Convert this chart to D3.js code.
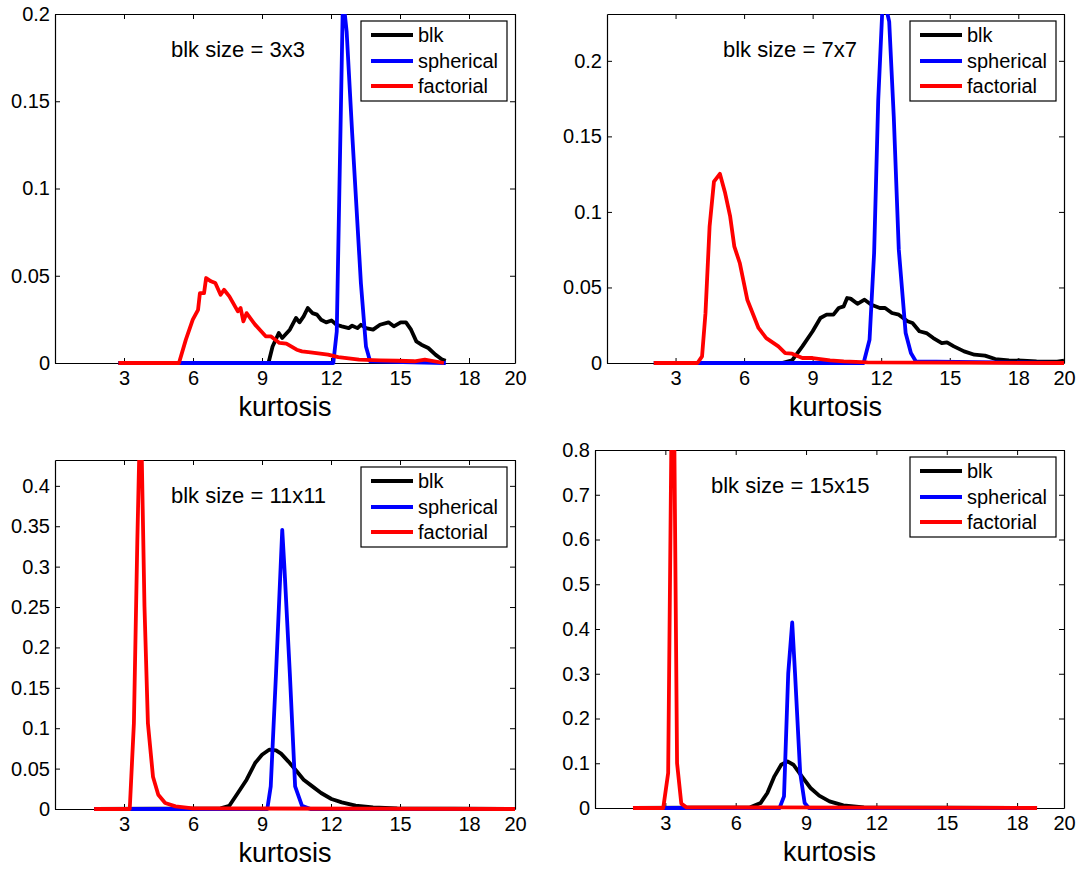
<!DOCTYPE html>
<html>
<head>
<meta charset="utf-8">
<script src="https://cdn.jsdelivr.net/npm/d3@7"></script>
<style>
  body { margin: 0; background: #fff; }
  text { font-family: "Liberation Sans", Arial, Helvetica, sans-serif; fill: #000; }
</style>
</head>
<body>
<script>
// ---- data ----
var seriesNames = ["blk", "spherical", "factorial"];
var seriesColors = ["#000000", "#0000ff", "#ff0000"];
var xTicks = [3, 6, 9, 12, 15, 18, 20];

var titles = ["blk size = 3x3", "blk size = 7x7", "blk size = 11x11", "blk size = 15x15"];
var yMax = [0.2, 0.231, 0.432, 0.8];
var yTicks1 = [0, 0.05, 0.1, 0.15, 0.2];
var yTicks2 = [0, 0.05, 0.1, 0.15, 0.2];
var yTicks3 = [0, 0.05, 0.1, 0.15, 0.2, 0.25, 0.3, 0.35, 0.4];
var yTicks4 = [0, 0.1, 0.2, 0.3, 0.4, 0.5, 0.6, 0.7, 0.8];

// 3x3
var blk3 = [[2.76,0],[9.28,0],[9.46,0.0095],[9.73,0.0172],[9.88,0.0143],[10.21,0.0191],[10.48,0.0258],[10.63,0.0233],
  [10.81,0.0267],[10.99,0.0315],[11.19,0.0286],[11.39,0.0277],[11.57,0.0248],[11.79,0.0233],[12.02,0.0244],[12.24,0.0219],
  [12.47,0.021],[12.77,0.020],[12.92,0.0214],[13.15,0.020],[13.30,0.0219],[13.52,0.020],[13.83,0.0191],[14.13,0.0219],
  [14.50,0.0233],[14.73,0.021],[15.03,0.0233],[15.26,0.0233],[15.48,0.0191],[15.71,0.0124],[15.93,0.0105],[16.23,0.0086],
  [16.54,0.0048],[16.84,0.0019],[16.99,0.0013]];
var sph3 = [[2.76,0],[12.1,0],[12.25,0.018],[12.52,0.21],[12.68,0.19],[12.92,0.1317],[13.3,0.0458],[13.52,0.0095],[13.7,0.001],[16.99,0]];
var fac3 = [[2.76,0],[5.39,0],[5.69,0.0134],[5.99,0.0248],[6.22,0.0305],[6.30,0.040],[6.48,0.040],[6.57,0.0487],[6.78,0.0468],
  [6.97,0.0458],[7.20,0.0391],[7.35,0.042],[7.58,0.0382],[7.95,0.0296],[8.07,0.0315],[8.19,0.0239],[8.33,0.0286],[8.70,0.022],
  [9.16,0.0153],[9.38,0.0153],[9.76,0.0115],[10.06,0.0111],[10.51,0.0076],[10.74,0.0067],[11.11,0.0061],[11.87,0.0048],
  [12.32,0.0034],[13.22,0.0019],[14.13,0.0015],[14.88,0.0013],[15.63,0.001],[16.08,0.0019],[16.91,0]];

// 7x7
var blk7 = [[2.05,0],[7.65,0],[8.1,0.0018],[8.55,0.011],[9.0,0.021],[9.34,0.0298],[9.61,0.032],[9.91,0.032],[10.14,0.0364],
  [10.36,0.0375],[10.51,0.043],[10.66,0.0426],[10.96,0.0392],[11.27,0.0419],[11.57,0.0386],[11.94,0.0364],[12.17,0.0364],
  [12.47,0.0331],[12.77,0.032],[13.15,0.0276],[13.37,0.0265],[13.67,0.021],[13.98,0.0198],[14.28,0.0165],[14.65,0.0132],
  [14.88,0.0137],[15.18,0.011],[15.63,0.0077],[16.08,0.0055],[16.54,0.0049],[16.99,0.0026],[17.59,0.0018],[18.19,0.0015],
  [18.8,0.0011],[19.7,0.0009],[20,0.0015]];
var sph7 = [[2.05,0],[11.23,0],[11.49,0.0154],[11.69,0.0728],[11.87,0.174],[12.05,0.234],[12.17,0.238],[12.35,0.226],
  [12.55,0.163],[12.77,0.075],[13.07,0.0198],[13.3,0.0066],[13.52,0.001],[20,0]];
var fac7 = [[2.05,0],[3.96,0],[4.16,0.0044],[4.31,0.033],[4.49,0.0904],[4.68,0.120],[4.94,0.1252],[5.17,0.1125],[5.39,0.097],
  [5.57,0.0772],[5.81,0.0662],[6.14,0.0419],[6.37,0.0331],[6.63,0.0232],[6.97,0.0165],[7.50,0.011],[7.80,0.0066],[8.10,0.0062],
  [8.55,0.0033],[9.0,0.0033],[9.76,0.0018],[10.36,0.0011],[11.4,0.0004],[20,0]];

// 11x11
var blk11 = [[1.7,0],[7.2,0.0008],[7.58,0.004],[7.95,0.0198],[8.33,0.0363],[8.70,0.0569],[9.0,0.0672],[9.31,0.0734],[9.61,0.0726],
  [9.83,0.0685],[10.14,0.059],[10.51,0.0466],[10.81,0.0363],[11.19,0.028],[11.57,0.0198],[12.02,0.0124],[12.47,0.0082],
  [13.07,0.0041],[13.83,0.0021],[14.88,0.0008],[20,0]];
var sph11 = [[1.7,0],[9.23,0],[9.38,0.028],[9.61,0.168],[9.88,0.3455],[9.98,0.296],[10.21,0.168],[10.44,0.028],[10.74,0.004],
  [11.11,0],[20,0]];
var fac11 = [[1.7,0],[3.25,0],[3.43,0.106],[3.58,0.333],[3.68,0.46],[3.77,0.44],[3.89,0.251],[4.04,0.106],[4.26,0.040],
  [4.49,0.0177],[4.79,0.0074],[5.24,0.0033],[5.99,0.0008],[20,0]];

// 15x15
var blk15 = [[1.62,0],[6.62,0.0015],[7.06,0.011],[7.35,0.0335],[7.65,0.0707],[7.94,0.0967],[8.21,0.104],[8.46,0.0967],
  [8.82,0.0707],[9.19,0.0447],[9.56,0.0275],[10.0,0.0149],[10.59,0.006],[11.47,0.0015],[18.85,0]];
var sph15 = [[1.62,0],[7.87,0],[8.06,0.026],[8.24,0.301],[8.41,0.4145],[8.53,0.301],[8.75,0.078],[8.94,0.011],[9.12,0],[18.85,0]];
var fac15 = [[1.62,0],[2.91,0],[3.12,0.078],[3.26,0.84],[3.38,0.84],[3.5,0.1],[3.68,0.0097],[3.9,0.0015],[18.85,0]];

// ---- layout ----
var W = 1080, H = 869;
var boxes = [
  {left: 55, right: 515, top: 14, bottom: 363},
  {left: 607, right: 1064, top: 14, bottom: 363},
  {left: 55, right: 515, top: 460, bottom: 809},
  {left: 595, right: 1064, top: 450, bottom: 808}
];
var panelSeries = [[blk3, sph3, fac3], [blk7, sph7, fac7], [blk11, sph11, fac11], [blk15, sph15, fac15]];
var panelYTicks = [yTicks1, yTicks2, yTicks3, yTicks4];

var svg = d3.select("body").append("svg")
  .attr("width", W)
  .attr("height", H);

var fmt = function(d) { return String(+d.toFixed(2)); };

function drawPanel(i) {
  var b = boxes[i];
  var g = svg.append("g");

  var x = d3.scaleLinear().domain([0, 20]).range([b.left, b.right]);
  var y = d3.scaleLinear().domain([0, yMax[i]]).range([b.bottom, b.top]);

  // axes, MATLAB style ticks pointing inward on all four sides
  g.append("g").attr("transform", "translate(0," + b.bottom + ")")
    .call(d3.axisBottom(x).tickValues(xTicks).tickSize(-5).tickSizeOuter(0).tickPadding(8).tickFormat(d3.format("d")));
  g.append("g").attr("transform", "translate(0," + b.top + ")")
    .call(d3.axisTop(x).tickValues(xTicks).tickSize(-5).tickSizeOuter(0).tickFormat(""));
  g.append("g").attr("transform", "translate(" + b.left + ",0)")
    .call(d3.axisLeft(y).tickValues(panelYTicks[i]).tickSize(-5).tickSizeOuter(0).tickPadding(5).tickFormat(fmt));
  g.append("g").attr("transform", "translate(" + b.right + ",0)")
    .call(d3.axisRight(y).tickValues(panelYTicks[i]).tickSize(-5).tickSizeOuter(0).tickFormat(""));

  g.selectAll(".domain").attr("stroke", "#000").attr("stroke-width", 1.2);
  g.selectAll(".tick line").attr("stroke", "#000");
  g.selectAll(".tick text").attr("font-size", 20).attr("font-family", null).attr("fill", "#000");

  // x label
  g.append("text")
    .attr("x", (b.left + b.right) / 2)
    .attr("y", b.bottom + 53)
    .attr("text-anchor", "middle")
    .attr("font-size", 27)
    .text("kurtosis");

  // curves, clipped at the axes limits
  var clipId = "clip" + i;
  svg.append("clipPath").attr("id", clipId)
    .append("rect")
    .attr("x", b.left - 4).attr("y", b.top)
    .attr("width", b.right - b.left + 8).attr("height", b.bottom - b.top + 5);

  var line = d3.line()
    .x(function(d) { return x(d[0]); })
    .y(function(d) { return y(d[1]); });

  var lg = g.append("g").attr("clip-path", "url(#" + clipId + ")");
  panelSeries[i].forEach(function(s, k) {
    lg.append("path")
      .datum(s)
      .attr("d", line)
      .attr("fill", "none")
      .attr("stroke", seriesColors[k])
      .attr("stroke-width", 3.8)
      .attr("stroke-linejoin", "round");
  });

  // title inside the plot
  g.append("text")
    .attr("x", b.left + 116)
    .attr("y", b.top + 43)
    .attr("font-size", 22)
    .text(titles[i]);

  // legend
  var legW = 146, legH = 80;
  var leg = g.append("g").attr("transform", "translate(" + (b.right - 8 - legW) + "," + (b.top + 7) + ")");
  leg.append("rect")
    .attr("width", legW).attr("height", legH)
    .attr("fill", "#fff").attr("stroke", "#000").attr("stroke-width", 1.2);
  var rowY = [14, 40, 65];
  seriesNames.forEach(function(name, k) {
    leg.append("line")
      .attr("x1", 10).attr("x2", 52)
      .attr("y1", rowY[k]).attr("y2", rowY[k])
      .attr("stroke", seriesColors[k]).attr("stroke-width", 3.8);
    leg.append("text")
      .attr("x", 57).attr("y", rowY[k])
      .attr("dy", "0.35em")
      .attr("font-size", 20)
      .text(name);
  });
}

for (var i = 0; i < 4; i++) drawPanel(i);
</script>
</body>
</html>
